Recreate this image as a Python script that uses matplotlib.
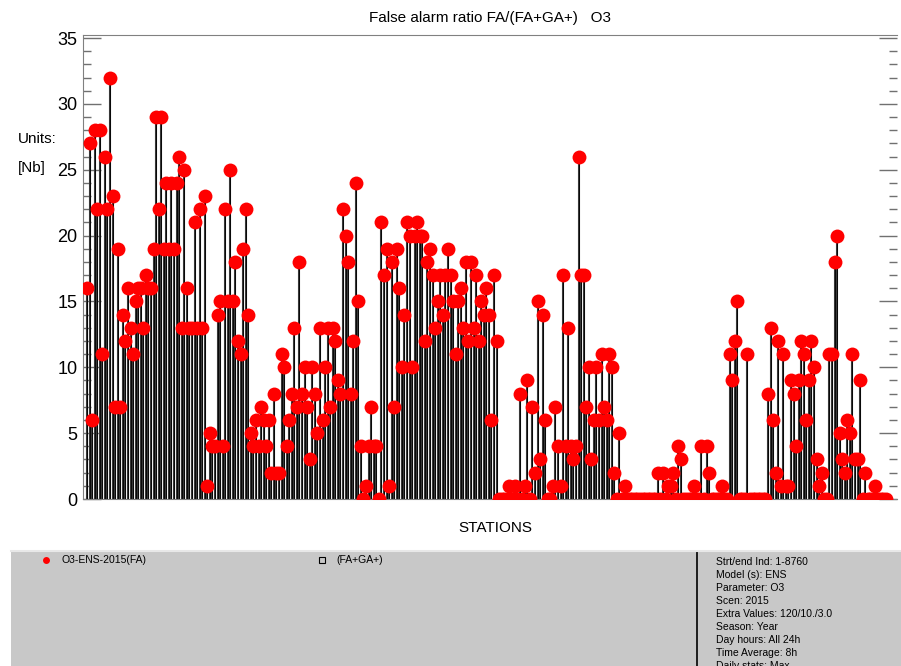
import numpy as np
import matplotlib.pyplot as plt
from matplotlib.ticker import MultipleLocator

plt.rcParams['font.family'] = ['Liberation Sans', 'DejaVu Sans']

# FA counts per station, left to right
fa_values = [
    16, 27, 6, 28, 22, 28, 11, 26, 22, 32, 23, 7, 19, 7, 14, 12, 16, 13, 11, 15,
    16, 16, 13, 17, 16, 16, 19, 29, 22, 29, 19, 24, 19, 24, 19, 24, 26, 13, 25, 16,
    13, 13, 21, 13, 22, 13, 23, 1, 5,
    4, 4, 14, 15, 4, 22, 15, 25, 15, 18, 12, 11, 19, 22, 14, 5, 4, 6, 4, 7,
    6, 4, 6, 2, 8, 2, 2, 11, 10, 4, 6, 8, 13, 7, 18, 8, 10, 7, 3, 10,
    8, 5, 13, 6, 10, 13, 7, 13, 12, 9, 8, 22,
    20, 18, 8, 12, 24, 15, 4, 0, 1, 4, 7, 4, 4, 0, 21, 17, 19, 1, 18, 7,
    19, 16, 10, 14, 21, 20, 10, 20, 21, 20, 20, 12, 18, 19, 17, 13, 15, 17, 14, 17,
    19, 17, 15, 11, 15, 16, 13, 18, 12, 18, 13, 17, 12, 15, 14, 16, 14, 6, 17, 12,
    0, 0, 0, 0, 1, 0, 1, 0, 8, 0, 1, 9, 0, 7, 2, 15, 3, 14, 6, 0,
    0, 1, 7, 4, 1, 17, 4, 13, 4, 3, 4, 26, 17, 17, 7, 10, 3, 6, 10, 6,
    11, 7, 6, 11,
    10, 2, 0, 5, 0, 1, 0, 0, 0, 0, 0, 0, 0, 0, 0, 0, 0, 0, 2, 0,
    2, 0, 1, 1, 2, 0, 4, 3, 0, 0, 0, 0, 1, 0, 0, 4, 0, 4, 2, 0,
    0, 0, 0, 1, 0, 0, 11, 9, 12, 15, 0, 0, 0, 11, 0, 0, 0,
    0, 0, 0, 0, 8, 13, 6, 2, 12, 1, 11, 1, 1, 9, 8, 4, 9, 12, 11, 6,
    9, 12, 10, 3, 1, 2, 0, 0, 11, 11, 18, 20, 5, 3, 2, 6, 5, 11, 3, 3,
    9, 0, 2, 0, 0, 0, 1, 0, 0, 0, 0,
]

info_lines = [
    "Strt/end Ind: 1-8760",
    "Model (s): ENS",
    "Parameter: O3",
    "Scen: 2015",
    "Extra Values: 120/10./3.0",
    "Season: Year",
    "Day hours: All 24h",
    "Time Average: 8h",
    "Daily stats: Max",
]

W, H = 901, 666
fig = plt.figure(figsize=(W / 100, H / 100), dpi=100)

# axes box in pixels: left 83, right 897, top 35, bottom 499
ax = fig.add_axes([83 / W, 1 - 499 / H, (897 - 83) / W, (499 - 35) / H])

x = np.arange(len(fa_values))
y = np.array(fa_values)

# needles packed tightly so the columns read as a dark striped fill
ax.vlines(x, 0, y, color='#383838', linewidth=1.5, zorder=2)
ax.vlines(x, 0, y, color='#000000', linewidth=0.6, zorder=2)
ax.plot(x, y, 'o', color='#ff0000', markersize=10, markeredgewidth=0, zorder=3)

ax.set_ylim(0, 35.23)
spacing = 2.56
ax.set_xlim(-4 / spacing, -4 / spacing + 814 / spacing)

ax.yaxis.set_major_locator(MultipleLocator(5))
ax.yaxis.set_minor_locator(MultipleLocator(1))
ax.tick_params(axis='y', which='major', direction='in', length=13, width=1,
               color='#707070', labelsize=13, right=True, pad=4)
ax.tick_params(axis='y', which='minor', direction='in', length=6, width=1,
               color='#707070', right=True)
ax.tick_params(axis='x', which='both', bottom=False, labelbottom=False)

for side in ['left', 'top', 'bottom']:
    ax.spines[side].set_color('#808080')
ax.spines['right'].set_visible(False)

fig.text(490 / W, 1 - 18 / H, "False alarm ratio FA/(FA+GA+)   O3",
         ha='center', va='center', fontsize=11)
fig.text(18 / W, 1 - 139 / H, "Units:", ha='left', va='center', fontsize=11)
fig.text(18 / W, 1 - 168 / H, "[Nb]", ha='left', va='center', fontsize=11)
fig.text(495 / W, 1 - 528 / H, "STATIONS", ha='center', va='center', fontsize=11)

# grey info panel at the bottom
panel = fig.add_axes([11 / W, 0, (W - 11) / W, (H - 551) / H])
panel.set_xlim(11, W)
panel.set_ylim(H, 551)
panel.set_facecolor('#c8c8c8')
for s in panel.spines.values():
    s.set_visible(False)
panel.spines['top'].set_visible(True)
panel.spines['top'].set_color('#e8e8e8')
panel.spines['top'].set_linewidth(1.5)
panel.set_xticks([])
panel.set_yticks([])

panel.plot([697, 697], [551, H], color='black', linewidth=1.2)
panel.plot([46], [560], 'o', color='#ff0000', markersize=5, markeredgewidth=0)
panel.text(62, 560, "O3-ENS-2015(FA)", ha='left', va='center', fontsize=7.5)
panel.plot([322], [560], 's', markerfacecolor='none', markeredgecolor='black',
           markersize=4, markeredgewidth=0.8)
panel.text(336, 560, "(FA+GA+)", ha='left', va='center', fontsize=7.5)

for i, line in enumerate(info_lines):
    panel.text(716, 562 + i * 13.0, line, ha='left', va='center', fontsize=7.5)

fig.savefig('out.png', dpi=100)
